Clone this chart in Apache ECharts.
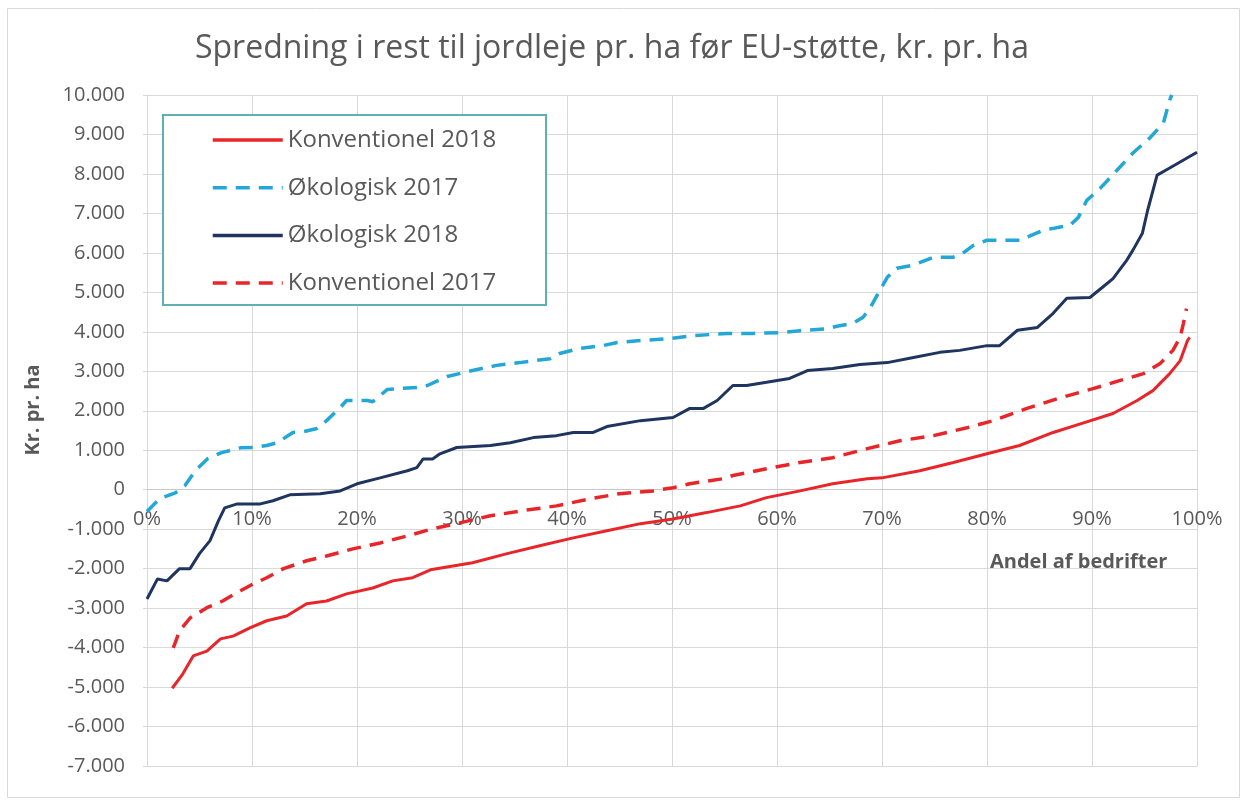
<!DOCTYPE html>
<html>
<head>
<meta charset="utf-8">
<script src="https://cdn.jsdelivr.net/npm/echarts@6/dist/echarts.min.js"></script>
<style>
  html, body { margin: 0; padding: 0; background: #ffffff; }
  #chart { width: 1245px; height: 800px; }
</style>
</head>
<body>
<div id="chart"></div>
<script>
// ---- Data (x = andel af bedrifter in %, y = kr. pr. ha) ----
const titleText = 'Spredning i rest til jordleje pr. ha før EU-støtte, kr. pr. ha';
const seriesNames = ['Konventionel 2018', 'Økologisk 2017', 'Økologisk 2018', 'Konventionel 2017'];
const xTicks = [0, 10, 20, 30, 40, 50, 60, 70, 80, 90, 100];
const yTicks = [-7000, 10000, 1000]; // min, max, step

const konv2018 = [
  [2.4,-5030],[3.4,-4670],[4.4,-4210],[5.7,-4090],[7.0,-3780],[8.2,-3710],[9.8,-3500],
  [11.4,-3320],[13.3,-3200],[15.2,-2890],[17.1,-2820],[19.0,-2640],[21.5,-2490],[23.4,-2310],
  [25.3,-2230],[27.0,-2030],[31.0,-1850],[34.3,-1620],[37.4,-1420],[40.6,-1220],[43.8,-1040],
  [47.0,-860],[50.1,-740],[53.3,-580],[56.5,-410],[59.0,-200],[62.2,-30],[65.3,150],
  [68.6,280],[70.0,300],[73.6,480],[76.8,690],[80.0,910],[83.1,1120],[86.3,1450],
  [89.5,1720],[92.0,1930],[94.3,2260],[95.8,2510],[97.4,2940],[98.4,3270],[99.1,3780],[99.3,3860]
];
const oeko2017 = [
  [0,-550],[1.2,-230],[2.7,-80],[3.6,100],[4.6,480],[5.8,790],[7.1,940],[8.9,1060],
  [10.1,1070],[11.4,1120],[12.4,1190],[13.9,1450],[14.9,1470],[16.2,1550],[17.1,1750],
  [18.4,2080],[19.0,2260],[21.0,2260],[21.5,2230],[22.9,2540],[23.8,2560],[25.7,2590],
  [26.7,2640],[28.6,2870],[31.0,3020],[33.3,3150],[35.5,3220],[38.4,3320],[39.3,3450],
  [41.2,3580],[43.4,3650],[44.8,3730],[47.0,3780],[49.8,3830],[52.0,3900],[55.2,3960],
  [57.7,3960],[60.3,3980],[62.2,4030],[64.8,4080],[65.7,4140],[67.2,4210],[68.2,4370],
  [68.9,4620],[69.8,5050],[70.5,5380],[71.4,5610],[73.0,5690],[74.9,5890],[76.8,5890],
  [77.7,5990],[78.7,6190],[80.0,6320],[83.1,6320],[85.3,6570],[87.9,6700],[88.7,6900],
  [89.5,7330],[90.8,7640],[92.4,8100],[93.9,8530],[95.5,8910],[96.8,9290],[97.4,9870],[97.6,10000]
];
const oeko2018 = [
  [0,-2770],[1.0,-2260],[1.9,-2310],[3.1,-2000],[4.1,-2000],[5.0,-1620],[6.0,-1290],
  [6.8,-790],[7.4,-460],[8.6,-360],[10.8,-360],[12.0,-280],[13.6,-130],[16.5,-100],
  [18.4,-30],[20.0,150],[22.2,300],[24.8,480],[25.7,560],[26.3,780],[27.2,780],[27.9,910],
  [29.5,1070],[32.7,1120],[34.6,1190],[36.8,1320],[39.0,1370],[40.6,1450],[42.5,1450],
  [43.8,1600],[47.0,1750],[50.1,1830],[51.7,2060],[53.0,2060],[54.3,2260],[55.8,2640],
  [57.1,2640],[59.0,2720],[61.2,2820],[62.9,3020],[65.3,3070],[67.9,3170],[70.5,3220],
  [73.0,3350],[75.5,3480],[77.4,3530],[80.0,3650],[81.2,3650],[82.9,4040],[84.8,4110],
  [86.3,4470],[87.6,4850],[89.8,4870],[91.0,5130],[92.0,5350],[93.3,5810],[93.9,6070],
  [94.8,6500],[95.3,7080],[96.2,7970],[97.4,8150],[100,8550]
];
const konv2017 = [
  [2.5,-4010],[3.1,-3580],[4.1,-3250],[5.7,-2990],[7.2,-2820],[8.9,-2560],[10.1,-2390],
  [11.4,-2230],[13.0,-2000],[15.2,-1800],[17.1,-1680],[19.6,-1500],[22.2,-1350],[24.8,-1170],
  [27.2,-990],[29.8,-840],[32.7,-660],[35.8,-530],[39.0,-410],[42.2,-230],[45.0,-100],
  [48.2,-30],[50.1,50],[51.7,150],[54.9,280],[55.8,360],[59.0,530],[62.2,690],[65.3,810],
  [68.6,1040],[71.7,1240],[74.9,1370],[78.1,1570],[80.6,1750],[83.8,2060],[87.0,2330],
  [90.1,2560],[92.7,2770],[94.9,2940],[96.5,3200],[97.7,3530],[98.4,3860],[98.7,4210],[99.0,4590]
];

const FONT = "'Open Sans', 'Noto Sans', sans-serif";
const TXT = '#595959';
const GRID = '#d9d9d9';

function fmtKr(v) {
  const s = Math.abs(v).toString().replace(/\B(?=(\d{3})+(?!\d))/g, '.');
  return (v < 0 ? '-' : '') + s;
}

// plot geometry
const gridTop = 95, gridBottom = 34, H = 800;
const plotH = H - gridTop - gridBottom;
const zeroFromBottom = plotH * (0 - yTicks[0]) / (yTicks[1] - yTicks[0]);

const chart = echarts.init(document.getElementById('chart'), null, { renderer: 'canvas' });
chart.setOption({
  backgroundColor: '#ffffff',
  animation: false,
  title: {
    text: titleText,
    left: 607,
    top: 28,
    textAlign: 'center',
    textStyle: { fontFamily: FONT, fontSize: 32, fontWeight: 'normal', color: TXT }
  },
  grid: { left: 147, right: 48, top: gridTop, bottom: gridBottom, containLabel: false, outerBoundsMode: 'none' },
  xAxis: {
    type: 'value',
    min: xTicks[0],
    max: xTicks[xTicks.length - 1],
    interval: 10,
    position: 'bottom',
    offset: -zeroFromBottom,
    axisLine: { show: true, onZero: false, lineStyle: { color: '#c8c8c8', width: 1 } },
    axisTick: { show: false },
    axisLabel: { margin: 20, formatter: '{value}%', fontFamily: FONT, fontSize: 20, color: TXT },
    splitLine: { show: true, lineStyle: { color: GRID, width: 1 } }
  },
  yAxis: {
    type: 'value',
    min: yTicks[0],
    max: yTicks[1],
    interval: yTicks[2],
    axisLine: { show: true, onZero: false, lineStyle: { color: GRID } },
    axisTick: { show: true, length: 4, lineStyle: { color: GRID } },
    axisLabel: { margin: 22, formatter: fmtKr, fontFamily: FONT, fontSize: 20, color: TXT },
    splitLine: { show: true, lineStyle: { color: GRID, width: 1 } }
  },
  legend: {
    data: seriesNames,
    orient: 'vertical',
    left: 211,
    top: 128,
    padding: 0,
    itemWidth: 70,
    itemHeight: 24,
    itemGap: 23.7,
    z: 10,
    itemStyle: { opacity: 0 },
    lineStyle: { width: 3.5 },
    textStyle: { fontFamily: FONT, fontSize: 24, color: TXT }
  },
  graphic: [
    { type: 'rect', z: -10, silent: true,
      shape: { x: 7.5, y: 8.5, width: 1232, height: 789 },
      style: { fill: 'none', stroke: '#d9d9d9', lineWidth: 1 } },
    { type: 'rect', z: 5, silent: true,
      shape: { x: 163, y: 115, width: 383, height: 190 },
      style: { fill: '#ffffff', stroke: '#5fb0b4', lineWidth: 2 } },
    { type: 'text', left: 990, top: 552, silent: true, z: 6,
      style: { text: 'Andel af bedrifter', fontFamily: FONT, fontSize: 20, fontWeight: 'bold', fill: TXT } },
    { type: 'text', x: 33, y: 410, rotation: Math.PI / 2, silent: true,
      style: { text: 'Kr. pr. ha', fontFamily: FONT, fontSize: 20, fontWeight: 'bold', fill: TXT,
               align: 'center', verticalAlign: 'middle' } }
  ],
  series: [
    { name: seriesNames[0], type: 'line', data: konv2018, symbol: 'none', z: 4,
      lineStyle: { color: '#e8262a', width: 3 }, itemStyle: { color: '#e8262a' } },
    { name: seriesNames[1], type: 'line', data: oeko2017, symbol: 'none', z: 3,
      lineStyle: { color: '#22a7d6', width: 3.5, type: [14, 9] }, itemStyle: { color: '#22a7d6' } },
    { name: seriesNames[2], type: 'line', data: oeko2018, symbol: 'none', z: 3,
      lineStyle: { color: '#1f3560', width: 3 }, itemStyle: { color: '#1f3560' } },
    { name: seriesNames[3], type: 'line', data: konv2017, symbol: 'none', z: 3,
      lineStyle: { color: '#e8262a', width: 3.5, type: [14, 9] }, itemStyle: { color: '#e8262a' } }
  ]
});
</script>
</body>
</html>
